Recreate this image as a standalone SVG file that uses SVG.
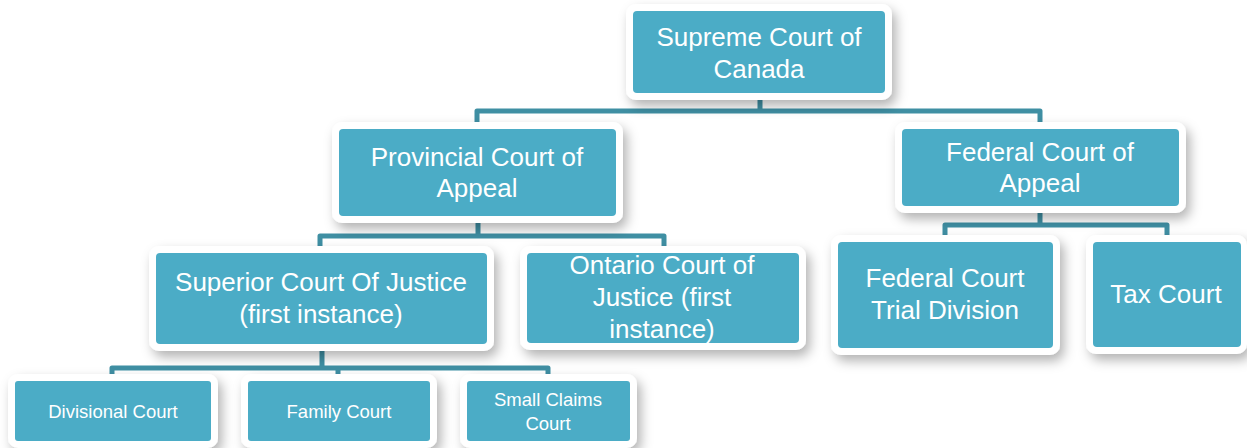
<svg xmlns="http://www.w3.org/2000/svg" width="1247" height="448" viewBox="0 0 1247 448">
<defs>
<filter id="sh" x="-20%" y="-20%" width="150%" height="160%">
<feDropShadow dx="4" dy="6" stdDeviation="6" flood-color="#000" flood-opacity="0.3"/>
</filter>
<style>
.outer{fill:#fff;filter:url(#sh)}
.inner{fill:#4bacc6}
.t{font-family:"Liberation Sans",Arial,sans-serif;fill:#fff;text-anchor:middle;font-size:26px}
.s{font-size:18.5px}
.c{fill:none;stroke:#3f8fa3;stroke-width:5;stroke-linejoin:round}
</style>
</defs>
<rect width="1247" height="448" fill="#fff"/>
<g id="connectors">
<path class="c" d="M760 93 V111 M477 126 V111 H1040 V126"/>
<path class="c" d="M478 216 V236 M320 246 V236 H664 V246"/>
<path class="c" d="M1040 206 V225 M945 236 V225 H1167 V236"/>
<path class="c" d="M322 344 V368 M112 378 V368 H548 V378 M338 368 V378"/>
</g>
<g id="supreme">
<rect class="outer" x="626" y="4" width="266" height="96" rx="10"/>
<rect class="inner" x="633" y="11" width="252" height="82" rx="4"/>
<text class="t" x="759" y="46">Supreme Court of</text>
<text class="t" x="759" y="78">Canada</text>
</g>
<g id="provincial">
<rect class="outer" x="332" y="122" width="291" height="101" rx="10"/>
<rect class="inner" x="339" y="129" width="277" height="87" rx="4"/>
<text class="t" x="477" y="166">Provincial Court of</text>
<text class="t" x="477" y="197">Appeal</text>
</g>
<g id="federal-appeal">
<rect class="outer" x="895" y="122" width="291" height="91" rx="10"/>
<rect class="inner" x="902" y="129" width="277" height="77" rx="4"/>
<text class="t" x="1040" y="161">Federal Court of</text>
<text class="t" x="1040" y="192">Appeal</text>
</g>
<g id="superior">
<rect class="outer" x="149" y="246" width="345" height="105" rx="10"/>
<rect class="inner" x="156" y="253" width="331" height="91" rx="4"/>
<text class="t" x="321" y="291">Superior Court Of Justice</text>
<text class="t" x="321" y="323">(first instance)</text>
</g>
<g id="ontario">
<rect class="outer" x="520" y="246" width="286" height="104" rx="10"/>
<rect class="inner" x="527" y="253" width="272" height="90" rx="4"/>
<text class="t" x="662" y="274">Ontario Court of</text>
<text class="t" x="662" y="306">Justice (first</text>
<text class="t" x="662" y="338">instance)</text>
</g>
<g id="federal-trial">
<rect class="outer" x="831" y="235" width="229" height="120" rx="10"/>
<rect class="inner" x="838" y="242" width="215" height="106" rx="4"/>
<text class="t" x="945" y="287">Federal Court</text>
<text class="t" x="945" y="319">Trial Division</text>
</g>
<g id="tax">
<rect class="outer" x="1086" y="235" width="161" height="119" rx="10"/>
<rect class="inner" x="1093" y="242" width="148" height="105" rx="4"/>
<text class="t" x="1166" y="303">Tax Court</text>
</g>
<g id="divisional">
<rect class="outer" x="8" y="374" width="210" height="74" rx="10"/>
<rect class="inner" x="15" y="381" width="196" height="60" rx="3"/>
<text class="t s" x="113" y="418">Divisional Court</text>
</g>
<g id="family">
<rect class="outer" x="241" y="374" width="196" height="74" rx="10"/>
<rect class="inner" x="248" y="381" width="182" height="60" rx="3"/>
<text class="t s" x="339" y="418">Family Court</text>
</g>
<g id="small-claims">
<rect class="outer" x="460" y="374" width="177" height="74" rx="10"/>
<rect class="inner" x="467" y="381" width="163" height="60" rx="3"/>
<text class="t s" x="548" y="406">Small Claims</text>
<text class="t s" x="548" y="430">Court</text>
</g>
</svg>
